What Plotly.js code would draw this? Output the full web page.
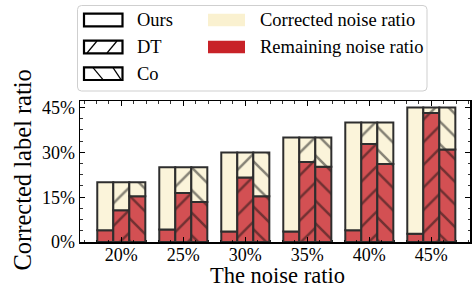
<!DOCTYPE html>
<html>
<head>
<meta charset="utf-8">
<script src="https://cdn.plot.ly/plotly-3.0.1.min.js"></script>
<style>html,body{margin:0;padding:0;background:#fff;} #chart{width:474px;height:287px;}</style>
</head>
<body>
<div id="chart"></div>
<script>
// ---- data ----
const categories = ['20%', '25%', '30%', '35%', '40%', '45%'];
const noiseTotal = [20, 25, 30, 35, 40, 45];
const remainingOurs = [3.9, 4.2, 3.5, 3.5, 3.9, 2.8];
const remainingDT = [10.6, 16.4, 21.6, 26.8, 32.8, 43.2];
const remainingCo = [15.3, 13.4, 15.3, 25.2, 26.1, 31.0];
const yTickVals = [0, 15, 30, 45];
const yTickText = ['0%', '15%', '30%', '45%'];
const methods = ['Ours', 'DT', 'Co'];
const legendRight = ['Corrected noise ratio', 'Remaining noise ratio'];
const xTitle = 'The noise ratio';
const yTitle = 'Corrected label ratio';

// ---- styles ----
const RED = 'rgb(211,80,83)';
const CREAM = 'rgb(251,244,218)';
const EDGE = '#2e2e2e';
const FONT = 'Liberation Serif, Times New Roman, serif';
const hatch = {Ours: '', DT: '/', Co: '\\'};
const groupKey = {Ours: 'a', DT: 'b', Co: 'c'};
const remaining = {Ours: remainingOurs, DT: remainingDT, Co: remainingCo};

const xIdx = categories.map((_, i) => i);
const traces = [];
methods.forEach(m => {
  const rem = remaining[m];
  const corrected = noiseTotal.map((t, i) => t - rem[i]);
  const pat = hatch[m] ? {shape: hatch[m], size: 16, solidity: 0.16, fgcolor: '#111', fillmode: 'overlay'} : {shape: ''};
  traces.push({
    type: 'bar', x: xIdx, y: rem, offsetgroup: groupKey[m], name: m + ' remaining',
    marker: {color: RED, line: {color: EDGE, width: 2}, pattern: Object.assign({}, pat, {bgcolor: RED})},
    showlegend: false, hoverinfo: 'skip'
  });
  traces.push({
    type: 'bar', x: xIdx, y: corrected, base: rem, offsetgroup: groupKey[m], name: m + ' corrected',
    marker: {color: CREAM, line: {color: EDGE, width: 2}, pattern: Object.assign({}, pat, {bgcolor: CREAM})},
    showlegend: false, hoverinfo: 'skip'
  });
});

// ---- manual legend (pixel -> paper) ----
const ML = 80, MR = 4, MT = 101, MB = 45, W = 474, H = 287;
const PW = W - ML - MR, PH = H - MT - MB;
const px = v => (v - ML) / PW;
const py = v => (H - MB - v) / PH;
const shapes = [];
const annotations = [];
function roundRect(x0, y0, x1, y1, r) {
  const p = (a, b) => px(a) + ',' + py(b);
  return 'M' + p(x0 + r, y0) + ' L' + p(x1 - r, y0) + ' Q' + p(x1, y0) + ' ' + p(x1, y0 + r) +
    ' L' + p(x1, y1 - r) + ' Q' + p(x1, y1) + ' ' + p(x1 - r, y1) +
    ' L' + p(x0 + r, y1) + ' Q' + p(x0, y1) + ' ' + p(x0, y1 - r) +
    ' L' + p(x0, y0 + r) + ' Q' + p(x0, y0) + ' ' + p(x0 + r, y0) + ' Z';
}
shapes.push({type: 'path', xref: 'paper', yref: 'paper', path: roundRect(77.5, 5.5, 427, 91, 4),
  line: {color: '#cfcfcf', width: 1}, fillcolor: 'rgba(255,255,255,0.9)', layer: 'above'});
const rows = [20, 47, 73.7];
methods.forEach((m, i) => {
  const yc = rows[i];
  shapes.push({type: 'rect', xref: 'paper', yref: 'paper', x0: px(84), x1: px(122.5), y0: py(yc - 6.3), y1: py(yc + 6.3),
    line: {color: '#000', width: 2.2}, fillcolor: '#fff', layer: 'above'});
  if (hatch[m] === '/') {
    [[87, 97], [107, 117]].forEach(([a, b]) => shapes.push({type: 'line', xref: 'paper', yref: 'paper',
      x0: px(a), y0: py(yc + 6), x1: px(b), y1: py(yc - 6), line: {color: '#000', width: 1.2}, layer: 'above'}));
  } else if (hatch[m] === '\\') {
    [[93, 103], [113, 121]].forEach(([a, b]) => shapes.push({type: 'line', xref: 'paper', yref: 'paper',
      x0: px(a), y0: py(yc - 6), x1: px(b), y1: py(yc + 6), line: {color: '#000', width: 1.2}, layer: 'above'}));
  }
  annotations.push({xref: 'paper', yref: 'paper', x: px(134.5), y: py(yc), xanchor: 'left', yanchor: 'middle',
    text: m, showarrow: false, font: {family: FONT, size: 18.5, color: '#000'}});
});
[['rgb(250,241,208)', rows[0]], ['rgb(200,34,40)', rows[1]]].forEach(([c, yc], i) => {
  shapes.push({type: 'rect', xref: 'paper', yref: 'paper', x0: px(208), x1: px(245), y0: py(yc - 6.3), y1: py(yc + 6.3),
    line: {width: 0}, fillcolor: c, layer: 'above'});
  annotations.push({xref: 'paper', yref: 'paper', x: px(258), y: py(yc), xanchor: 'left', yanchor: 'middle',
    text: legendRight[i], showarrow: false, font: {family: FONT, size: 18.5, color: '#000'}});
});
// axis titles as annotations (positioned in the margins)
annotations.push({xref: 'paper', yref: 'paper', x: px(277), y: py(275.5), xanchor: 'center', yanchor: 'middle',
  text: xTitle, showarrow: false, font: {family: FONT, size: 22.5, color: '#000'}});
annotations.push({xref: 'paper', yref: 'paper', x: px(22), y: py(170.5), xanchor: 'center', yanchor: 'middle',
  text: yTitle, textangle: -90, showarrow: false, font: {family: FONT, size: 24.5, color: '#000'}});

const layout = {
  width: W, height: H,
  margin: {l: ML, r: MR, t: MT, b: MB, pad: 0},
  paper_bgcolor: '#fff', plot_bgcolor: '#fff',
  barmode: 'group', bargap: 0.225, bargroupgap: 0,
  showlegend: false,
  font: {family: FONT, size: 18, color: '#000'},
  xaxis: {
    range: [-0.666, 5.624], tickmode: 'array', tickvals: xIdx, ticktext: categories,
    ticks: 'inside', ticklen: 5, tickwidth: 1, tickcolor: '#000', ticklabelstandoff: -4,
    minor: {dtick: 0.2, tick0: 0, ticks: 'inside', ticklen: 2.5, tickcolor: '#000', tickwidth: 0.8},
    showline: true, linecolor: '#000', linewidth: 1.5, mirror: 'allticks',
    showgrid: false, zeroline: false,
    tickfont: {family: FONT, size: 18, color: '#000'}
  },
  yaxis: {
    range: [0, 47.2], tickmode: 'array', tickvals: yTickVals, ticktext: yTickText,
    ticks: 'inside', ticklen: 5, tickwidth: 1, tickcolor: '#000',
    minor: {dtick: 3.75, tick0: 0, ticks: 'inside', ticklen: 2.5, tickcolor: '#000', tickwidth: 0.8},
    showline: true, linecolor: '#000', linewidth: 1.5, mirror: 'allticks',
    showgrid: false, zeroline: false,
    tickfont: {family: FONT, size: 18, color: '#000'}
  },
  shapes: shapes,
  annotations: annotations
};

Plotly.newPlot('chart', traces, layout, {displayModeBar: false, staticPlot: true});
</script>
</body>
</html>
